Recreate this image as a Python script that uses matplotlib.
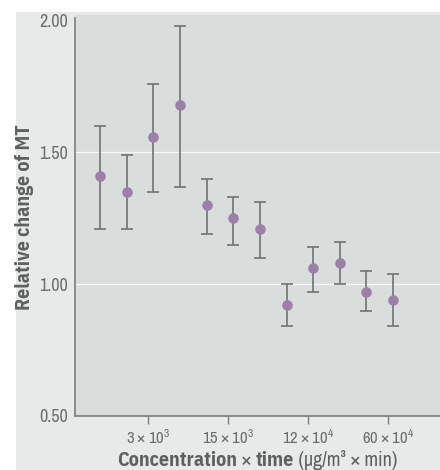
import matplotlib
matplotlib.use('Agg')
import matplotlib.pyplot as plt
from matplotlib.patches import Rectangle

narrow = ['Archivo Narrow', 'PT Sans Narrow', 'DejaVu Sans']
bold_narrow = ['IBM Plex Sans Condensed', 'PT Sans Narrow', 'DejaVu Sans']
plt.rcParams['font.family'] = narrow
plt.rcParams['mathtext.fontset'] = 'custom'
plt.rcParams['mathtext.rm'] = 'Archivo Narrow'

# Relative change of MT per exposure group
group = [1, 2, 3, 4, 5, 6, 7, 8, 9, 10, 11, 12]
mean_mt = [1.41, 1.35, 1.56, 1.68, 1.30, 1.25, 1.21, 0.92, 1.06, 1.08, 0.97, 0.94]
upper_mt = [1.60, 1.49, 1.76, 1.98, 1.40, 1.33, 1.31, 1.00, 1.14, 1.16, 1.05, 1.04]
lower_mt = [1.21, 1.21, 1.35, 1.37, 1.19, 1.15, 1.10, 0.84, 0.97, 1.00, 0.90, 0.84]

xtick_pos = [2.8, 5.8, 8.8, 11.8]
xtick_labels = [r'$\mathregular{3\times10^3}$', r'$\mathregular{15\times10^3}$',
                r'$\mathregular{12\times10^4}$', r'$\mathregular{60\times10^4}$']
ytick_vals = [0.50, 1.00, 1.50, 2.00]

text_col = '#6b6e6c'
label_col = '#5c605e'
axis_col = '#7a7e7c'

W, H = 440, 470
fig = plt.figure(figsize=(W / 100, H / 100), dpi=100, facecolor='#e7eae9')
# white scan margins at top and left (behind everything)
fig.patches.append(Rectangle((0, 1 - 12 / H), 1, 12 / H, transform=fig.transFigure,
                             facecolor='white', edgecolor='none', zorder=-5))
fig.patches.append(Rectangle((0, 0), 16 / W, 1, transform=fig.transFigure,
                             facecolor='white', edgecolor='none', zorder=-5))

ax = fig.add_axes([74.6 / W, 54 / H, 1 - 74.6 / W, 401 / H])
ax.set_facecolor('#d9dedd')

lo = [m - l for m, l in zip(mean_mt, lower_mt)]
hi = [u - m for m, u in zip(mean_mt, upper_mt)]
ax.errorbar(group, mean_mt, yerr=[lo, hi], fmt='o', color='#9d80a7', ms=7.6,
            mec='none', ecolor='#6f7371', elinewidth=1.2, capsize=4.2, capthick=1.2,
            zorder=3)

for yv in [1.0, 1.5]:
    ax.axhline(yv, color='white', lw=0.9, alpha=0.8, zorder=1)

ax.set_xlim(0.047, 13.76)
ax.set_ylim(0.5, 2.021)
ax.set_xticks(xtick_pos)
ax.set_xticklabels(xtick_labels)
ax.set_yticks(ytick_vals)
ax.set_yticklabels([f'{v:.2f}' for v in ytick_vals])
ax.tick_params(axis='x', length=6, width=1, color=axis_col, labelcolor=text_col,
               labelsize=12, pad=3)
ax.tick_params(axis='y', length=0, labelcolor=text_col, labelsize=13, pad=5)

for s in ['top', 'right']:
    ax.spines[s].set_visible(False)
for s in ['left', 'bottom']:
    ax.spines[s].set_color(axis_col)
    ax.spines[s].set_linewidth(1.2)
ax.spines['left'].set_bounds(0.5, 2.01)

renderer = fig.canvas.get_renderer()

# y label, sized to span the same height as in the original
ylab = fig.text(25 / W, 1 - 217 / H, 'Relative change of MT', rotation=90,
                family=bold_narrow, fontweight='bold', fontsize=15,
                color=label_col, ha='center', va='center')
ylab.set_fontsize(15 * 185 / ylab.get_window_extent(renderer).height)

# x label with mixed weights, centred under the axes
parts = [('Concentration', 'bold'), (' × ', 'normal'), ('time', 'bold'),
         (' (μg/m³ × min)', 'normal')]
texts = [fig.text(0, 1 - 465.5 / H, t, fontsize=14,
                  family=bold_narrow if w == 'bold' else narrow,
                  fontweight=w, color=label_col, va='baseline', ha='left')
         for t, w in parts]
total = sum(t.get_window_extent(renderer).width for t in texts)
for t in texts:
    t.set_fontsize(14 * 281 / total)
widths = [t.get_window_extent(renderer).width for t in texts]
x0 = 257 - sum(widths) / 2
for t, w in zip(texts, widths):
    t.set_x(x0 / W)
    x0 += w

plt.savefig('out.png', dpi=100, facecolor=fig.get_facecolor())
